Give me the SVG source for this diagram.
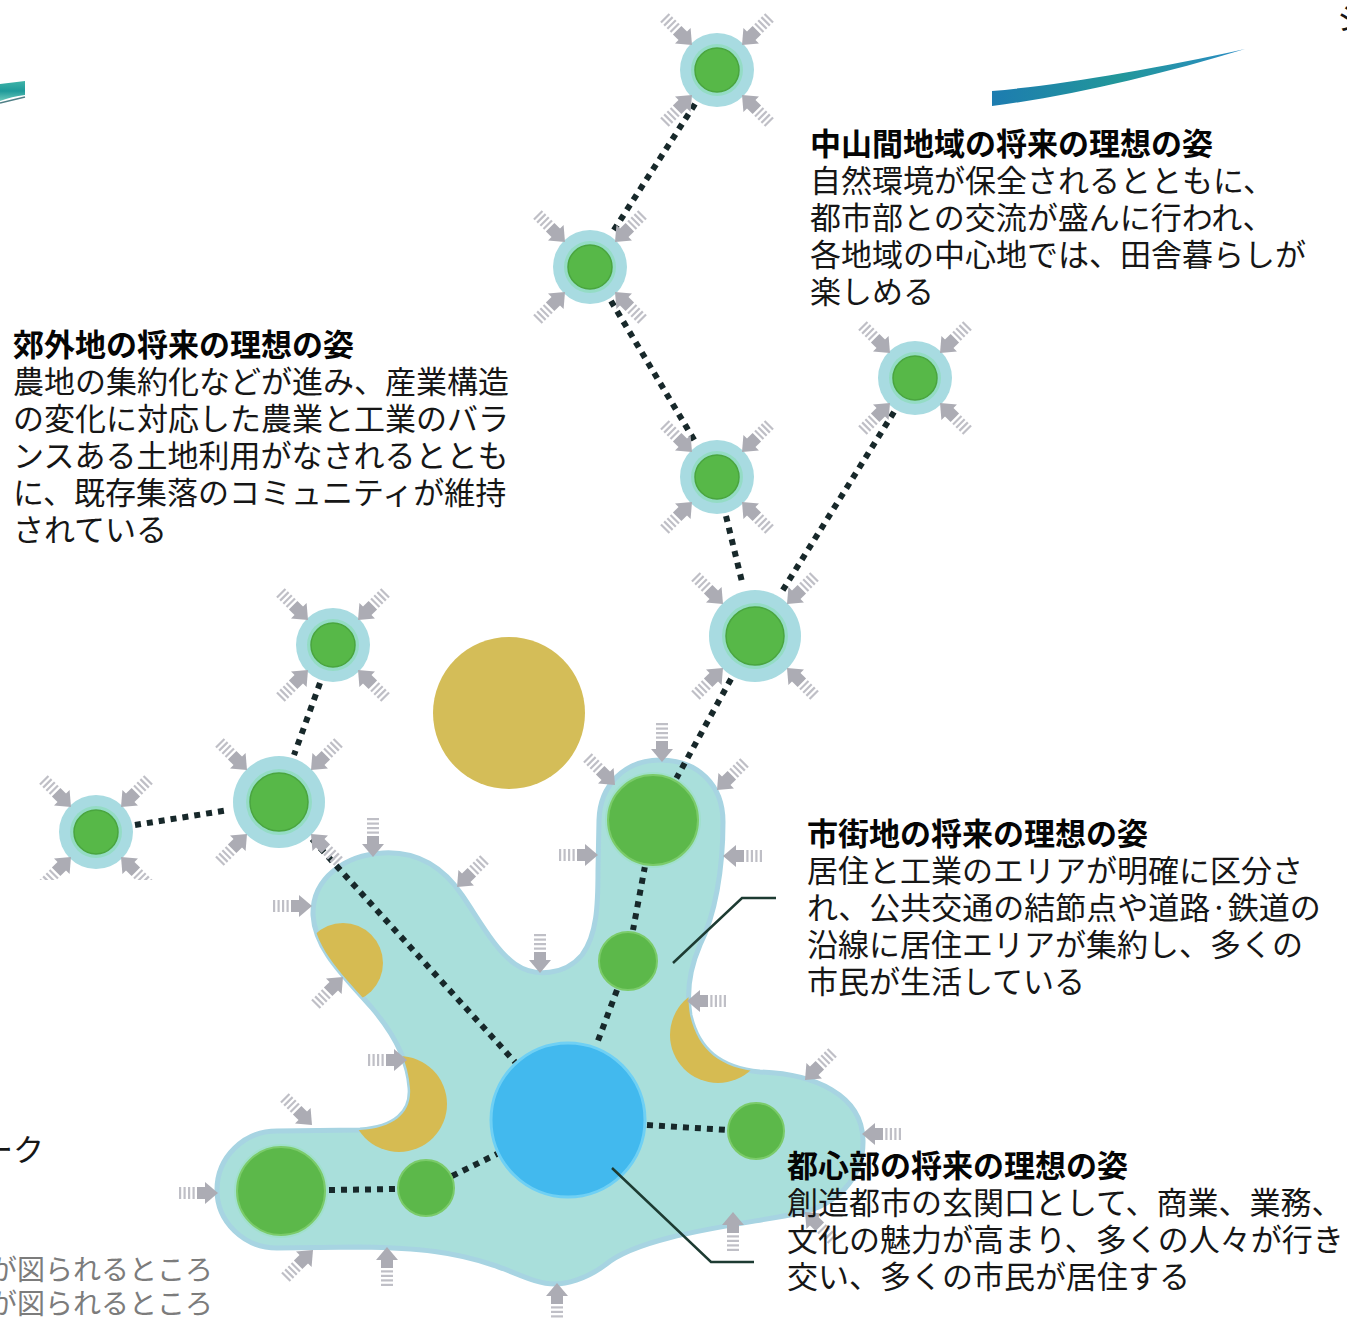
<svg xmlns="http://www.w3.org/2000/svg" xmlns:xlink="http://www.w3.org/1999/xlink" width="1347" height="1318" viewBox="0 0 1347 1318">
<defs>
<style>
.t{font-family:"Noto Sans CJK JP","Noto Sans",sans-serif;font-size:31px;fill:#161616}
.h{font-weight:700;fill:#050505}
.g{fill:#7c7c7c;font-size:28px}
.dot{stroke:#17282a;stroke-width:6;stroke-dasharray:6 6;fill:none}
.halo{fill:#a8dbe1}
.ring{fill:#94dcc5}
.core{fill:#57b848;stroke:#4aa53f;stroke-width:1.5}
.gc{fill:#5cb84a;stroke:#7bcb6a;stroke-width:2}
.gr{fill:#a0e0cc}
.yel{fill:#d6bb52}
.call{stroke:#1d3b32;stroke-width:2.5;fill:none}
.ah{fill:#acacb4}
.st{fill:#bfbfc6}
</style>
<linearGradient id="sw1" x1="0" y1="0" x2="1" y2="0">
<stop offset="0" stop-color="#1d7cb0"/><stop offset="0.5" stop-color="#22979a"/><stop offset="1" stop-color="#2b8cc4"/>
</linearGradient>
<linearGradient id="sw2" x1="0" y1="0" x2="0" y2="1">
<stop offset="0" stop-color="#3fb3a8"/><stop offset="0.5" stop-color="#1f9a9a"/><stop offset="1" stop-color="#6ccabb"/>
</linearGradient>
<g id="arr">
<polygon class="ah" points="0,0 -13,-11 -13,11"/>
<rect class="ah" x="-21" y="-6" width="9" height="12"/>
<rect class="st" x="-25.5" y="-6" width="2.2" height="12"/>
<rect class="st" x="-30" y="-6" width="2.2" height="12"/>
<rect class="st" x="-34.5" y="-6" width="2.2" height="12"/>
<rect class="st" x="-39" y="-6" width="2.2" height="12"/>
</g>
<g id="sat">
<circle r="37" class="halo"/>
<circle r="26" class="ring"/>
<circle r="22" class="core"/>
<use xlink:href="#arr" href="#arr" transform="translate(-25,-25) rotate(45)"/>
<use xlink:href="#arr" href="#arr" transform="translate(25,-25) rotate(135)"/>
<use xlink:href="#arr" href="#arr" transform="translate(-25,25) rotate(-45)"/>
<use xlink:href="#arr" href="#arr" transform="translate(25,25) rotate(-135)"/>
</g>
<g id="satL">
<circle r="46" class="halo"/>
<circle r="33" class="ring"/>
<circle r="29" class="core"/>
<use xlink:href="#arr" href="#arr" transform="translate(-32,-32) rotate(45)"/>
<use xlink:href="#arr" href="#arr" transform="translate(32,-32) rotate(135)"/>
<use xlink:href="#arr" href="#arr" transform="translate(-32,32) rotate(-45)"/>
<use xlink:href="#arr" href="#arr" transform="translate(32,32) rotate(-135)"/>
</g>
<clipPath id="blobclip">
<path d="M383,853 C420,851 445,870 462,895 C478,918 495,950 515,964 C535,978 565,975 582,955 C597,935 598,905 598,870 L599,820 C600,785 625,760 660,760 C698,760 723,785 723,822 C723,870 715,915 700,945 C690,968 686,990 690,1015 C698,1050 720,1068 760,1072 C815,1074 862,1095 863,1140 C864,1180 835,1205 800,1213 C740,1225 640,1235 605,1265 C585,1280 565,1284 555,1284 C535,1284 515,1272 493,1265 C455,1252 420,1248 360,1247 L277,1248 C244,1248 217,1222 217,1190 C217,1157 244,1131 277,1131 L360,1130 C395,1128 412,1112 410,1088 C408,1060 395,1035 372,1008 C345,977 315,950 313,915 C312,878 345,855 383,853 Z"/>
</clipPath>
</defs>

<rect width="1347" height="1318" fill="#ffffff"/>

<g id="decor">
<path d="M992,91 C1060,85 1150,70 1245,49 C1160,75 1070,96 992,106 Z" fill="url(#sw1)"/>
<path d="M0,84 L25,81 L25,95 C16,96 8,98 0,101 Z" fill="url(#sw2)"/>
<path d="M0,103 L25,97" stroke="#4f7f86" stroke-width="1.5"/>
</g>

<g id="yellow-area">
<circle cx="509" cy="713" r="76" fill="#d4bd58"/>
</g>

<g id="urban-area">
<path d="M383,853 C420,851 445,870 462,895 C478,918 495,950 515,964 C535,978 565,975 582,955 C597,935 598,905 598,870 L599,820 C600,785 625,760 660,760 C698,760 723,785 723,822 C723,870 715,915 700,945 C690,968 686,990 690,1015 C698,1050 720,1068 760,1072 C815,1074 862,1095 863,1140 C864,1180 835,1205 800,1213 C740,1225 640,1235 605,1265 C585,1280 565,1284 555,1284 C535,1284 515,1272 493,1265 C455,1252 420,1248 360,1247 L277,1248 C244,1248 217,1222 217,1190 C217,1157 244,1131 277,1131 L360,1130 C395,1128 412,1112 410,1088 C408,1060 395,1035 372,1008 C345,977 315,950 313,915 C312,878 345,855 383,853 Z" fill="#a9dfdb" stroke="#a7d4e2" stroke-width="5"/>
<g clip-path="url(#blobclip)">
<circle class="yel" cx="343" cy="963" r="40"/>
<circle class="yel" cx="399" cy="1104" r="48"/>
<circle class="yel" cx="718" cy="1035" r="48"/>
</g>
</g>

<g id="urban-arrows">
<use href="#arr" transform="translate(373,857) rotate(90)"/>
<use href="#arr" transform="translate(312,906)"/>
<use href="#arr" transform="translate(457,887) rotate(135)"/>
<use href="#arr" transform="translate(540,973) rotate(90)"/>
<use href="#arr" transform="translate(598,855)"/>
<use href="#arr" transform="translate(343,977) rotate(-45)"/>
<use href="#arr" transform="translate(407,1060)"/>
<use href="#arr" transform="translate(312,1125) rotate(45)"/>
<use href="#arr" transform="translate(218,1193)"/>
<use href="#arr" transform="translate(313,1250) rotate(-45)"/>
<use href="#arr" transform="translate(387,1247) rotate(-90)"/>
<use href="#arr" transform="translate(557,1283) rotate(-90)"/>
<use href="#arr" transform="translate(733,1212) rotate(-90)"/>
<use href="#arr" transform="translate(805,1212) rotate(-135)"/>
<use href="#arr" transform="translate(862,1134) rotate(180)"/>
<use href="#arr" transform="translate(805,1080) rotate(135)"/>
<use href="#arr" transform="translate(687,1001) rotate(180)"/>
<use href="#arr" transform="translate(723,856) rotate(180)"/>
<use href="#arr" transform="translate(662,762) rotate(90)"/>
<use href="#arr" transform="translate(615,785) rotate(45)"/>
<use href="#arr" transform="translate(717,790) rotate(135)"/>
</g>

<g id="connectors">
<line class="dot" x1="695" y1="104" x2="612" y2="233"/>
<line class="dot" x1="611" y1="301" x2="696" y2="443"/>
<line class="dot" x1="726" y1="516" x2="743" y2="586"/>
<line class="dot" x1="894" y1="412" x2="781" y2="593"/>
<line class="dot" x1="731" y1="679" x2="676" y2="779"/>
<line class="dot" x1="645" y1="866" x2="633" y2="930"/>
<line class="dot" x1="617" y1="990" x2="596" y2="1046"/>
<line class="dot" x1="320" y1="683" x2="294" y2="755"/>
<line class="dot" x1="135" y1="825" x2="229" y2="810"/>
<line class="dot" x1="312" y1="839" x2="515" y2="1062"/>
<line class="dot" x1="329" y1="1190" x2="397" y2="1189"/>
<line class="dot" x1="452" y1="1176" x2="497" y2="1154"/>
<line class="dot" x1="647" y1="1125" x2="727" y2="1130"/>
</g>

<g id="node-center"><circle cx="568" cy="1120" r="77" fill="#42b9ee" stroke="#6fd0f4" stroke-width="3"/></g>
<g id="node-g1"><circle class="gr" cx="653" cy="820" r="48"/><circle class="gc" cx="653" cy="820" r="45"/></g>
<g id="node-g2"><circle class="gc" cx="628" cy="961" r="29"/></g>
<g id="node-g3"><circle class="gc" cx="756" cy="1131" r="28"/></g>
<g id="node-g4"><circle class="gr" cx="281" cy="1191" r="47"/><circle class="gc" cx="281" cy="1191" r="44"/></g>
<g id="node-g5"><circle class="gc" cx="426" cy="1188" r="28"/></g>

<g id="node-n1"><use href="#sat" transform="translate(717,70)"/></g>
<g id="node-n2"><use href="#sat" transform="translate(590,267)"/></g>
<g id="node-n3"><use href="#sat" transform="translate(915,378)"/></g>
<g id="node-n4"><use href="#sat" transform="translate(717,477)"/></g>
<g id="node-n5"><use href="#satL" transform="translate(755,636)"/></g>
<g id="node-n6"><use href="#sat" transform="translate(333,645)"/></g>
<g id="node-n7"><use href="#satL" transform="translate(279,802)"/></g>
<g id="node-n8"><use href="#sat" transform="translate(96,832)"/></g>
<rect x="0" y="880" width="170" height="40" fill="#ffffff"/>

<g id="callouts">
<polyline class="call" points="673,963 742,898 776,898"/>
<polyline class="call" points="612,1168 711,1262 754,1262"/>
</g>

<g id="label-mountain">
<text class="t h" x="810" y="155">中山間地域の将来の理想の姿</text>
<text class="t" x="810" y="192">自然環境が保全されるとともに、</text>
<text class="t" x="810" y="229">都市部との交流が盛んに行われ、</text>
<text class="t" x="810" y="266">各地域の中心地では、田舎暮らしが</text>
<text class="t" x="810" y="303">楽しめる</text>
</g>
<g id="label-suburb">
<text class="t h" x="13" y="356">郊外地の将来の理想の姿</text>
<text class="t" x="13" y="393">農地の集約化などが進み、産業構造</text>
<text class="t" x="13" y="430">の変化に対応した農業と工業のバラ</text>
<text class="t" x="13" y="467">ンスある土地利用がなされるととも</text>
<text class="t" x="13" y="504">に、既存集落のコミュニティが維持</text>
<text class="t" x="13" y="541">されている</text>
</g>
<g id="label-city">
<text class="t h" x="807" y="845">市街地の将来の理想の姿</text>
<text class="t" x="807" y="882">居住と工業のエリアが明確に区分さ</text>
<text class="t" x="807" y="919">れ、公共交通の結節点や道路·鉄道の</text>
<text class="t" x="807" y="956">沿線に居住エリアが集約し、多くの</text>
<text class="t" x="807" y="993">市民が生活している</text>
</g>
<g id="label-center">
<text class="t h" x="787" y="1177">都心部の将来の理想の姿</text>
<text class="t" x="787" y="1214">創造都市の玄関口として、商業、業務、</text>
<text class="t" x="787" y="1251">文化の魅力が高まり、多くの人々が行き</text>
<text class="t" x="787" y="1288">交い、多くの市民が居住する</text>
</g>
<g id="edge-text">
<text class="t" x="44" y="1161" text-anchor="end" fill="#222">ーク</text>
<text class="t g" x="213" y="1280" text-anchor="end">が図られるところ</text>
<text class="t g" x="213" y="1314" text-anchor="end">が図られるところ</text>
<text class="t" x="1337" y="30">シ</text>
</g>
</svg>
